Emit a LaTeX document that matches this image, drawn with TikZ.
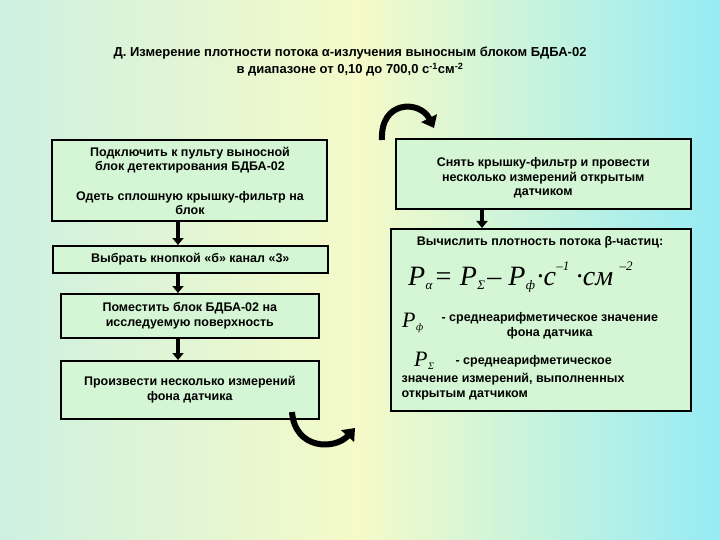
\documentclass[tikz,border=0pt]{standalone}
\usepackage{fontspec}
\setmainfont{Liberation Sans}
\newfontfamily\serifm{Liberation Serif}
\usetikzlibrary{arrows.meta}
\definecolor{boxg}{RGB}{212,246,212}
\tikzset{box/.style={draw=black,line width=1.6pt,fill=boxg,inner sep=0pt},
txt/.style={font=\bfseries\fontsize{12.5}{14.5}\selectfont,align=center},
dn/.style={-{Triangle[length=7pt,width=11pt]},line width=4pt},
curv/.style={line width=6pt,-{Triangle[length=11pt,width=17pt]}},
fm/.style={font=\serifm\itshape\fontsize{28}{30}\selectfont,inner sep=0pt},
sb/.style={font=\serifm\itshape\fontsize{13}{14}\selectfont,inner sep=0pt}}
\begin{document}
\begin{tikzpicture}[x=1pt,y=-1pt]
\useasboundingbox (0,0) rectangle (720,540);
\shade[left color={rgb,255:red,205;green,240;blue,225},right color={rgb,255:red,150;green,235;blue,245},middle color={rgb,255:red,245;green,250;blue,200}] (0,0) rectangle (720,540);
\node[txt,font=\bfseries\fontsize{13}{17}\selectfont] (t) at (350,62) {Д. Измерение плотности потока α-излучения выносным блоком БДБА-02\\в диапазоне от 0,10 до 700,0 с\textsuperscript{-1}см\textsuperscript{-2}};
% left boxes
\draw[box] (52,140) rectangle (327,221);
\node[txt] (l1a) at (190,160) {Подключить к пульту выносной\\блок детектирования БДБА-02};
\node[txt] (l1b) at (190,203) {Одеть сплошную крышку-фильтр на\\блок};
\coordinate (b1) at (178,222);
\node[box,minimum width=275pt,minimum height=27pt,anchor=north west] (l2) at (52,245) {};
\node[txt] at (l2) {Выбрать кнопкой «б» канал «3»};
\node[box,minimum width=258pt,minimum height=44pt,anchor=north west] (l3) at (60,293) {};
\node[txt] at (l3) {Поместить блок БДБА-02 на\\исследуемую поверхность};
\node[box,minimum width=258pt,minimum height=58pt,anchor=north west] (l4) at (60,360) {};
\node[txt] at (l4) {Произвести несколько измерений\\фона датчика};
\draw[dn] (b1) -- (l2.north -| b1);
\draw[dn] (l2.south -| b1) -- (l3.north -| b1);
\draw[dn] (l3.south -| b1) -- (l4.north -| b1);
% right boxes
\node[box,minimum width=295pt,minimum height=70pt,anchor=north west] (r1) at (395,138) {};
\node[txt] at ([yshift=-4pt]r1) {Снять крышку-фильтр и провести\\несколько измерений открытым\\датчиком};
\node[box,minimum width=300pt,minimum height=182pt,anchor=north west] (r2) at (390,228) {};
\draw[dn] (482,208) -- (482,228);
\node[txt,anchor=north] (r2a) at (540,233) {Вычислить плотность потока β-частиц:};
% formula
\node[fm,anchor=base west] (f1) at (408,285) {P};
\node[sb,anchor=base west] (f1s) at ([yshift=-4pt]f1.base east) {α};
\node[fm,anchor=base west] (f2) at ([xshift=1pt]f1s.base east |- f1.base) {= P};
\node[sb,anchor=base west] (f2s) at ([yshift=-4pt]f2.base east) {Σ};
\node[fm,anchor=base west] (f3) at ([xshift=2pt]f2s.base east |- f1.base) {– P};
\node[sb,anchor=base west] (f3s) at ([yshift=-4pt]f3.base east) {ф};
\node[fm,anchor=base west] (f4) at ([xshift=1pt]f3s.base east |- f1.base) {·c};
\node[sb,anchor=base west] (f4s) at ([yshift=15pt]f4.base east) {–1};
\node[fm,anchor=base west] (f5) at ([xshift=6pt]f4s.base east |- f1.base) {·см};
\node[sb,anchor=base west] (f5s) at ([yshift=15pt,xshift=6pt]f5.base east) {–2};
\node[fm,font=\serifm\itshape\fontsize{22}{24}\selectfont,anchor=base west] (pf) at (402,327) {P};
\node[sb,anchor=base west,font=\serifm\itshape\fontsize{10}{11}\selectfont] at ([yshift=-3pt]pf.base east) {ф};
\node[txt,anchor=west] (pft) at (438,326) {- среднеарифметическое значение\\фона датчика};
\node[fm,font=\serifm\itshape\fontsize{22}{24}\selectfont,anchor=base west] (ps) at (414,366) {P};
\node[sb,anchor=base west,font=\serifm\itshape\fontsize{10}{11}\selectfont] at ([yshift=-3pt]ps.base east) {Σ};
\node[txt,anchor=base west] (pst1) at (452,364) {- среднеарифметическое};
\node[txt,anchor=north west,align=left] (pst) at (398,370) {значение измерений, выполненных\\открытым датчиком};
% curved arrows
\coordinate (ca1) at (382,140);
\coordinate (ca2) at (434,128);
\draw[curv] (ca1) .. controls (380,100) and (420,100) .. (ca2);
\coordinate (cb1) at (292,412);
\coordinate (cb2) at (355,428);
\draw[curv] (cb1) .. controls (295,450) and (335,450) .. (cb2);
\end{tikzpicture}
\end{document}
